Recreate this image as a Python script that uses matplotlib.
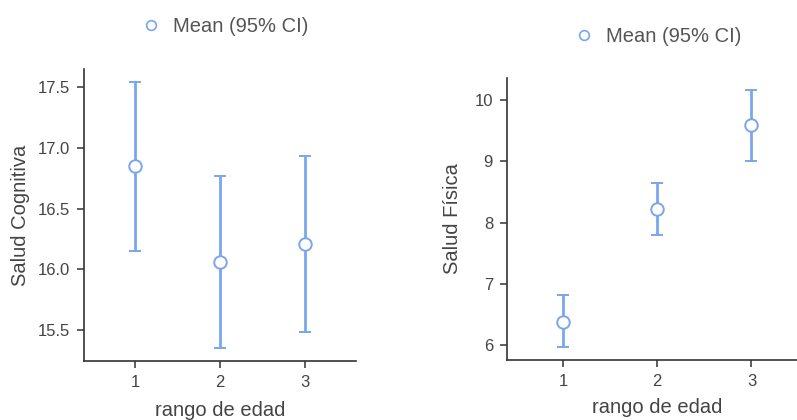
import matplotlib
matplotlib.use("Agg")
import matplotlib.pyplot as plt
from matplotlib.lines import Line2D

plt.rcParams['font.family'] = ['Liberation Sans', 'DejaVu Sans']

groups = [1, 2, 3]
cog_mean = [16.85, 16.06, 16.21]
cog_lo = [16.15, 15.35, 15.48]
cog_hi = [17.54, 16.77, 16.93]
fis_mean = [6.38, 8.22, 9.59]
fis_lo = [5.96, 7.80, 9.01]
fis_hi = [6.81, 8.65, 10.17]
cog_ticks = [15.5, 16.0, 16.5, 17.0, 17.5]
fis_ticks = [6, 7, 8, 9, 10]
xlabel = "rango de edad"
legend_label = "Mean (95% CI)"

W, H = 797, 420
fig = plt.figure(figsize=(W / 100, H / 100), dpi=100)

blue = '#7aa6ee'
txt = '#444444'
spine = '#333333'


def px_axes(l, t, r, b):
    return fig.add_axes([l / W, 1 - b / H, (r - l) / W, (b - t) / H])


ax1 = px_axes(84, 69, 356, 361)
ax2 = px_axes(507, 78, 808, 360)


def draw(ax, mean, lo, hi, ticks, ylim, xlim, ylabel, ylab_x, xlab_y, leg_xy):
    yerr = [[m - l for m, l in zip(mean, lo)], [h - m for m, h in zip(mean, hi)]]
    ax.errorbar(groups, mean, yerr=yerr, fmt='o', color=blue, ecolor=blue,
                elinewidth=2, capsize=4, capthick=2, mfc='white', mec=blue,
                ms=9, mew=1.4, zorder=3)
    ax.set_xlim(*xlim)
    ax.set_ylim(*ylim)
    ax.set_xticks(groups)
    ax.set_xticklabels([str(g) for g in groups])
    ax.set_yticks(ticks)
    ax.set_yticklabels([f"{t:g}" if isinstance(t, int) else f"{t:.1f}" for t in ticks])
    for s in ['top', 'right']:
        ax.spines[s].set_visible(False)
    for s in ['left', 'bottom']:
        ax.spines[s].set_color(spine)
        ax.spines[s].set_linewidth(1.2)
    ax.tick_params(axis='both', colors=spine, labelcolor=txt, labelsize=12,
                   length=5, width=1.1, direction='out', pad=5)
    ax.set_ylabel(ylabel, fontsize=14.5, color=txt)
    ax.yaxis.label.set_va('center')
    ax.yaxis.set_label_coords(ylab_x, 0.5)
    ax.set_xlabel(xlabel, fontsize=14.5, color=txt)
    ax.xaxis.label.set_va('center')
    ax.xaxis.set_label_coords(0.5, xlab_y)
    h = Line2D([], [], marker='o', linestyle='none', mfc='white', mec=blue,
               ms=7, mew=1.2)
    fig.legend(handles=[h], labels=[legend_label], loc='center left',
               bbox_to_anchor=(leg_xy[0] / W, 1 - leg_xy[1] / H),
               bbox_transform=fig.transFigure, frameon=False, borderpad=0,
               borderaxespad=0, handlelength=1.0, handletextpad=0.6,
               fontsize=14.5, labelcolor='#555555')


draw(ax1, cog_mean, cog_lo, cog_hi, cog_ticks, (15.245, 17.65), (0.4, 3.6),
     "Salud Cognitiva", -0.235, -0.168, (141, 27))
draw(ax2, fis_mean, fis_lo, fis_hi, fis_ticks, (5.755, 10.36), (0.404, 3.6),
     "Salud Física", -0.18, -0.167, (574, 37))

fig.savefig("out.png", dpi=100)
